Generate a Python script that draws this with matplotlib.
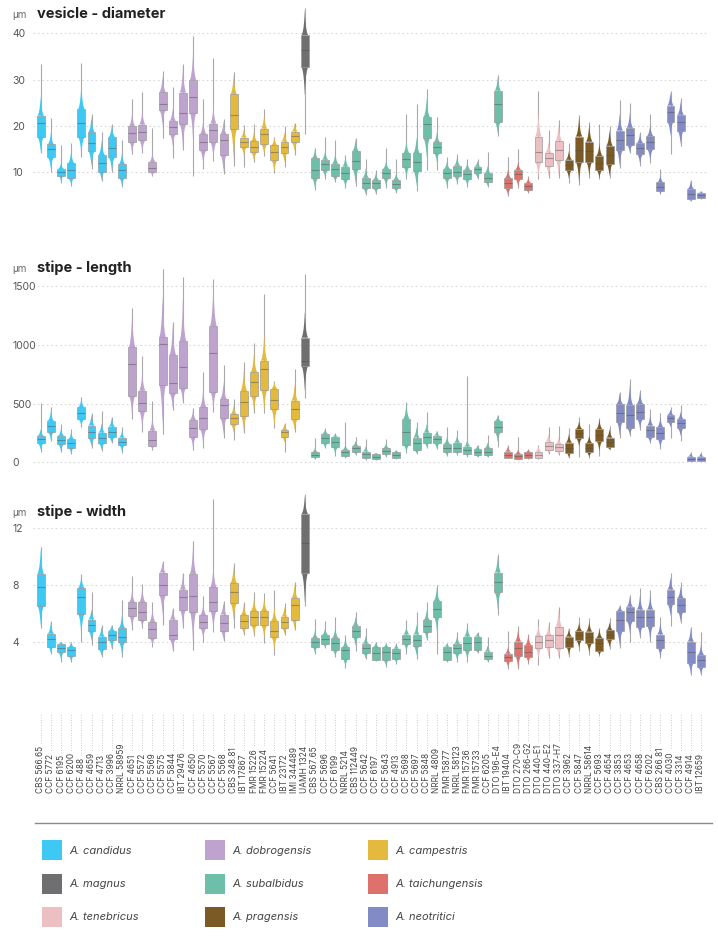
import matplotlib
matplotlib.use('Agg')
import matplotlib.pyplot as plt
from matplotlib.patches import Rectangle, Polygon
import numpy as np

plt.rcParams['font.family'] = ['Inter', 'DejaVu Sans']

strains = ['CBS 566.65', 'CCF 5772', 'CCF 6195', 'CCF 6200', 'CCF 488', 'CCF 4659', 'CCF 4713',
           'CCF 3996', 'NRRL 58959', 'CCF 4651', 'CCF 5572', 'CCF 5569', 'CCF 5575', 'CCF 5844',
           'IBT 29476', 'CCF 4650', 'CCF 5570', 'CCF 5567', 'CCF 5568', 'CBS 348.81', 'IBT 17867',
           'FMR 15226', 'FMR 15224', 'CCF 5641', 'IBT 23172', 'IMI 344489', 'UAMH 1324',
           'CBS 567.65', 'CCF 5696', 'CCF 6199', 'NRRL 5214', 'CBS 112449', 'CCF 5642', 'CCF 6197',
           'CCF 5643', 'CCF 4913', 'CCF 5698', 'CCF 5697', 'CCF 5848', 'NRRL 4809', 'FMR 15877',
           'NRRL 58123', 'FMR 15736', 'FMR 15733', 'CCF 6205', 'DTO 196-E4', 'IBT 19404',
           'DTO 270-C9', 'DTO 266-G2', 'DTO 440-E1', 'DTO 440-E2', 'DTO 337-H7', 'CCF 3962',
           'CCF 5847', 'NRRL 58614', 'CCF 5693', 'CCF 4654', 'CCF 3853', 'CCF 4653', 'CCF 4658',
           'CCF 6202', 'CBS 266.81', 'CCF 4030', 'CCF 3314', 'CCF 4914', 'IBT 12659']

species = ['A. candidus', 'A. dobrogensis', 'A. campestris', 'A. magnus', 'A. subalbidus',
           'A. taichungensis', 'A. tenebricus', 'A. pragensis', 'A. neotritici']
species_n = [9, 10, 7, 1, 19, 3, 3, 5, 9]
species_colors = ['#3ec9f5', '#bea3cf', '#e3b93e', '#6f6f71', '#6dbfa9',
                  '#de716b', '#ecbfc2', '#7b5a25', '#838bc6']

# vesicle diameter (um)
vd_lo = [14.1, 10.0, 7.6, 7.1, 13.4, 10.7, 8.1, 10.1, 6.9, 13.9, 14.1, 9.2, 17.3, 13.0, 14.8, 9.1,
         10.7, 12.5, 9.6, 11.4, 11.1, 12.2, 13.6, 9.8, 11.2, 13.7, 18.3, 6.2, 8.5, 7.8, 6.5, 7.1,
         5.1, 5.3, 6.5, 5.5, 8.5, 6.0, 10.5, 10.5, 6.7, 7.4, 6.9, 8.5, 6.9, 17.9, 4.9, 6.7, 5.5,
         8.5, 8.8, 8.8, 7.6, 7.3, 8.8, 8.5, 8.8, 10.9, 14.1, 11.4, 11.9, 5.3, 13.9, 15.7, 3.7, 4.2]
vd_q1 = [17.6, 13.2, 9.3, 8.7, 17.6, 14.6, 10.1, 13.2, 8.8, 16.6, 16.9, 10.0, 23.4, 18.2, 20.4, 22.9,
         14.7, 16.5, 13.8, 19.3, 15.4, 14.3, 16.0, 12.6, 14.2, 16.5, 32.7, 8.7, 10.5, 9.1, 8.5, 10.7,
         6.5, 6.5, 8.7, 6.5, 11.2, 10.3, 17.3, 14.2, 8.7, 9.1, 8.5, 9.8, 8.0, 20.9, 6.5, 8.6, 6.2,
         12.2, 11.4, 12.7, 10.5, 12.2, 12.3, 10.5, 11.8, 14.8, 15.9, 13.9, 15.0, 6.0, 20.9, 19.0, 4.2, 4.4]
vd_med = [20.6, 15.0, 10.1, 10.5, 20.6, 16.4, 12.0, 15.2, 10.4, 18.4, 18.6, 11.0, 24.7, 19.7, 22.9, 26.3,
          16.5, 19.1, 16.9, 22.4, 16.5, 15.5, 18.3, 14.3, 15.4, 17.8, 36.5, 10.4, 11.7, 10.6, 9.8, 12.5,
          7.6, 7.6, 9.8, 7.5, 12.8, 12.3, 20.4, 15.5, 9.8, 10.1, 9.6, 10.6, 8.8, 24.7, 7.6, 9.6, 7.0,
          14.3, 13.0, 14.7, 11.6, 14.8, 14.5, 11.9, 13.7, 17.0, 18.1, 15.2, 16.5, 6.9, 23.1, 20.9, 5.3, 5.0]
vd_q3 = [22.2, 16.0, 10.7, 11.9, 23.6, 18.6, 13.7, 17.6, 11.7, 19.9, 20.3, 12.2, 27.3, 21.1, 27.2, 29.9,
         18.2, 20.5, 18.2, 26.8, 17.5, 16.7, 19.4, 15.8, 16.6, 18.8, 39.6, 13.0, 12.7, 11.8, 11.2, 14.5,
         8.8, 8.3, 10.7, 8.3, 14.1, 14.1, 21.9, 16.5, 10.7, 11.4, 10.5, 11.2, 9.8, 27.6, 8.7, 10.5, 7.6,
         17.7, 14.2, 16.8, 12.7, 17.7, 16.6, 13.5, 15.7, 19.0, 19.6, 16.3, 17.8, 7.8, 24.4, 22.4, 6.4, 5.6]
vd_hi = [33.3, 21.7, 15.9, 16.3, 33.5, 22.6, 18.6, 20.4, 17.0, 25.8, 27.4, 19.5, 31.9, 28.3, 33.3, 39.5,
         25.8, 34.6, 21.4, 31.6, 20.2, 20.4, 23.6, 17.7, 19.9, 20.7, 45.5, 15.2, 17.7, 17.0, 13.7, 17.5,
         12.9, 10.5, 15.3, 12.8, 22.6, 24.7, 28.0, 21.9, 13.2, 13.9, 12.9, 12.9, 14.3, 31.0, 13.4, 15.0, 9.1,
         27.6, 19.1, 21.2, 16.4, 22.4, 20.8, 20.4, 19.9, 25.5, 25.0, 18.8, 22.6, 10.6, 27.6, 26.1, 8.3, 5.9]

# stipe length (um)
sl_lo = [91, 184, 85, 68, 303, 125, 96, 161, 76, 365, 261, 105, 241, 445, 501, 105, 125, 431, 210,
         190, 246, 416, 416, 289, 91, 261, 544, 28, 119, 57, 34, 62, 23, 20, 48, 28, 76, 71, 125,
         110, 54, 62, 48, 42, 42, 133, 34, 25, 25, 28, 68, 62, 34, 48, 40, 54, 105, 210, 227, 275,
         161, 113, 210, 181, 11, 11]
sl_q1 = [161, 255, 153, 125, 365, 204, 161, 212, 147, 567, 436, 142, 657, 586, 629, 218, 280, 601, 374,
         323, 397, 567, 615, 453, 218, 365, 819, 42, 161, 133, 57, 91, 40, 28, 68, 40, 147, 105, 167,
         161, 85, 91, 71, 62, 62, 255, 40, 28, 40, 40, 105, 96, 82, 204, 85, 181, 127, 346, 289, 368,
         212, 198, 346, 289, 14, 14]
sl_med = [198, 312, 190, 161, 416, 261, 204, 261, 176, 833, 507, 190, 1003, 671, 807, 295, 380, 926, 487,
          374, 516, 686, 790, 530, 261, 453, 861, 62, 204, 176, 85, 119, 68, 48, 96, 62, 261, 161, 218,
          198, 125, 125, 105, 91, 91, 303, 62, 54, 62, 62, 142, 127, 125, 246, 125, 232, 170, 416, 402, 431,
          275, 246, 374, 331, 28, 28]
sl_q3 = [224, 351, 224, 195, 467, 312, 252, 303, 210, 977, 609, 269, 1062, 912, 1031, 360, 467, 1159, 538,
         408, 606, 765, 864, 623, 275, 524, 1060, 85, 241, 218, 105, 139, 91, 68, 119, 85, 368, 210, 252,
         227, 156, 167, 133, 110, 119, 351, 91, 71, 85, 91, 176, 156, 167, 283, 161, 280, 210, 496, 487, 496,
         312, 297, 402, 365, 48, 48]
sl_hi = [501, 473, 323, 283, 552, 416, 436, 388, 303, 1309, 907, 524, 1643, 1196, 1572, 459, 771, 1558, 827,
         535, 856, 1017, 1431, 691, 331, 790, 1598, 204, 289, 246, 340, 218, 195, 82, 195, 105, 516, 346, 431,
         269, 303, 275, 737, 147, 232, 402, 147, 218, 110, 147, 303, 312, 289, 382, 326, 374, 312, 601, 705, 615,
         453, 416, 473, 487, 91, 85]

# stipe width (um)
sw_lo = [5.0, 3.2, 2.6, 2.6, 4.05, 3.8, 3.0, 3.5, 3.0, 4.85, 5.0, 3.7, 5.2, 3.4, 5.0, 3.45, 4.0, 4.7, 4.1,
         5.0, 4.55, 4.45, 3.95, 3.1, 4.55, 4.85, 6.55, 3.2, 3.6, 2.95, 2.2, 3.4, 2.8, 2.7, 2.3, 2.5, 3.2,
         2.8, 4.15, 3.2, 2.65, 2.65, 2.65, 3.25, 2.65, 5.9, 2.1, 2.1, 2.5, 2.4, 2.9, 2.9, 2.95, 3.4, 3.1,
         3.05, 3.55, 3.6, 4.05, 4.3, 4.05, 2.9, 5.15, 5.35, 1.7, 1.7]
sw_q1 = [6.55, 3.7, 3.3, 3.05, 6.0, 4.8, 3.5, 4.15, 4.0, 5.85, 5.6, 4.3, 7.3, 4.2, 6.3, 6.15, 5.0, 6.2, 4.8,
         6.75, 5.0, 5.2, 5.2, 4.4, 5.0, 5.6, 8.9, 3.7, 3.9, 3.45, 2.85, 4.4, 3.25, 2.75, 2.75, 2.85, 3.9,
         3.75, 4.75, 5.8, 2.75, 3.25, 3.45, 3.45, 2.85, 7.5, 2.7, 3.05, 3.0, 3.6, 3.7, 3.6, 3.7, 4.15, 3.95,
         3.4, 4.2, 4.8, 5.5, 5.1, 5.15, 3.6, 6.7, 6.15, 2.55, 2.25]
sw_med = [7.9, 4.2, 3.6, 3.45, 7.2, 5.2, 4.05, 4.5, 4.4, 6.4, 6.15, 4.95, 8.05, 4.5, 7.15, 7.25, 5.4, 6.8, 5.35,
          7.55, 5.5, 5.75, 5.8, 4.8, 5.45, 6.6, 11.0, 4.05, 4.25, 3.95, 3.45, 4.8, 3.6, 3.25, 3.35, 3.25, 4.25,
          4.15, 5.15, 6.35, 3.3, 3.6, 3.95, 4.05, 3.05, 8.2, 2.95, 3.6, 3.35, 4.05, 4.15, 4.5, 4.05, 4.5, 4.4,
          3.95, 4.55, 5.55, 6.15, 5.8, 5.8, 4.15, 7.2, 6.65, 3.35, 2.75]
sw_q3 = [8.8, 4.6, 3.9, 3.65, 7.8, 5.6, 4.4, 4.8, 5.0, 6.8, 6.8, 5.4, 8.9, 5.6, 7.7, 8.8, 5.9, 7.85, 5.95,
         8.15, 5.9, 6.2, 6.2, 5.5, 5.8, 7.1, 13.0, 4.3, 4.5, 4.3, 3.65, 5.15, 3.9, 3.65, 3.65, 3.55, 4.55,
         4.55, 5.55, 6.9, 3.7, 3.9, 4.4, 4.4, 3.35, 8.9, 3.2, 4.05, 3.8, 4.45, 4.5, 5.1, 4.4, 4.8, 4.75,
         4.3, 4.85, 6.2, 6.5, 6.3, 6.3, 4.55, 7.7, 7.1, 4.05, 3.1]
sw_hi = [10.7, 5.5, 4.05, 4.05, 8.8, 7.5, 5.2, 5.25, 7.0, 8.65, 8.1, 6.8, 9.7, 6.4, 8.9, 11.1, 7.25, 14.05, 6.9,
         9.55, 6.8, 7.5, 7.45, 7.7, 6.75, 8.2, 14.4, 5.65, 5.5, 5.8, 4.55, 6.1, 5.0, 4.05, 3.95, 3.95, 5.55,
         6.1, 6.8, 8.0, 3.95, 4.7, 5.35, 4.7, 4.4, 10.2, 4.8, 5.15, 4.6, 5.65, 5.45, 6.5, 5.0, 5.75, 5.7,
         5.0, 5.7, 6.6, 7.3, 7.8, 7.7, 5.8, 8.9, 8.2, 5.1, 4.7]

W, H = 718, 939
strain_colors = np.repeat(species_colors, species_n)


def fig_box(left, top, right, bottom):
    return [left / W, 1 - bottom / H, (right - left) / W, (bottom - top) / H]


def draw_boxen(ax, lo, q1, med, q3, hi):
    hw = 0.39
    for i in range(len(strains)):
        c = strain_colors[i]
        ax.vlines(i, lo[i], hi[i], color='#8c8c8c', lw=0.8, alpha=0.75, zorder=2)
        iqr = q3[i] - q1[i]
        for a, b in ((q3[i], hi[i]), (q1[i], lo[i])):
            d = b - a
            L = np.sign(d) * min(abs(d) * 0.9, 0.85 * iqr + 0.02 * abs(d))
            fr = np.array([0, 0.12, 0.3, 0.55, 0.8, 1.0])
            ww = hw * np.array([0.8, 0.55, 0.34, 0.18, 0.07, 0.01])
            ys = a + fr * L
            pts = list(zip(i - ww, ys)) + list(zip((i + ww)[::-1], ys[::-1]))
            ax.add_patch(Polygon(pts, closed=True, facecolor=c, edgecolor='none', zorder=3))
        ax.add_patch(Rectangle((i - hw, q1[i]), 2 * hw, q3[i] - q1[i], facecolor=c,
                               edgecolor=(0.6, 0.6, 0.6, 0.7), lw=0.7, zorder=4))
        ax.hlines(med[i], i - hw, i + hw, color=(0.3, 0.3, 0.3, 0.45), lw=0.8, zorder=5)


fig = plt.figure(figsize=(W / 100, H / 100), dpi=100)

# overlay for titles and legend, in pixel coordinates
ov = fig.add_axes([0, 0, 1, 1])
ov.set_xlim(0, W)
ov.set_ylim(H, 0)
ov.axis('off')

panels = [
    ('vesicle - diameter', (vd_lo, vd_q1, vd_med, vd_q3, vd_hi), (3, 46), [10, 20, 30, 40],
     fig_box(33, 5.5, 708, 204.7), 18.5),
    ('stipe - length', (sl_lo, sl_q1, sl_med, sl_q3, sl_hi), (-40, 1680), [0, 500, 1000, 1500],
     fig_box(33, 264.8, 708, 467.0), 272),
    ('stipe - width', (sw_lo, sw_q1, sw_med, sw_q3, sw_hi), (1.4, 14.5), [4, 8, 12],
     fig_box(33, 492.7, 708, 679.4), 516),
]

for title, vals, ylim, yticks, rect, ty in panels:
    ax = fig.add_axes(rect)
    ax.set_facecolor('none')
    draw_boxen(ax, *vals)
    ax.set_xlim(-0.76, 65.69)
    ax.set_ylim(*ylim)
    ax.set_yticks(yticks)
    ax.set_yticklabels([str(t) for t in yticks])
    ax.set_xticks([])
    for s in ax.spines.values():
        s.set_visible(False)
    ax.tick_params(axis='y', length=0, pad=15.1, labelsize=7.5, labelcolor='#555555')
    for lbl in ax.get_yticklabels():
        lbl.set_ha('left')
    ax.grid(axis='y', color='#d9d9d9', linestyle=(0, (1.5, 2.5)), lw=0.8, zorder=0)
    ax.set_axisbelow(True)
    ov.text(37, ty, title, fontsize=10.5, fontweight='bold', color='#222222', va='baseline')
    ov.text(12, ty, '\u00b5m', fontsize=7, color='#666666', va='baseline')

# strain labels with dotted leaders
axl = fig.add_axes(fig_box(33, 713, 708, 793))
axl.set_xlim(-0.76, 65.69)
axl.set_ylim(0, 1)
axl.axis('off')
axl.vlines(range(len(strains)), 0, 1, color='#bdbdbd', lw=0.6, linestyles=(0, (1, 2)))
for i, s in enumerate(strains):
    axl.text(i, 0, s, rotation=90, ha='center', va='bottom', fontsize=6, color='#444444',
             bbox=dict(facecolor='white', edgecolor='none', pad=1.5))

# legend
ov.plot([35, 712], [823, 823], color='#8a8a8a', lw=1)
for k, name in enumerate(species):
    row, col = k // 3, k % 3
    x0 = 42 + col * 163
    y0 = 840 + row * 33.5
    ov.add_patch(Rectangle((x0, y0), 20, 20, facecolor=species_colors[k], edgecolor='none'))
    ov.text(x0 + 27, y0 + 10.5, name, fontsize=8, style='italic', color='#444444', va='center')

fig.savefig('out.png', dpi=100)
